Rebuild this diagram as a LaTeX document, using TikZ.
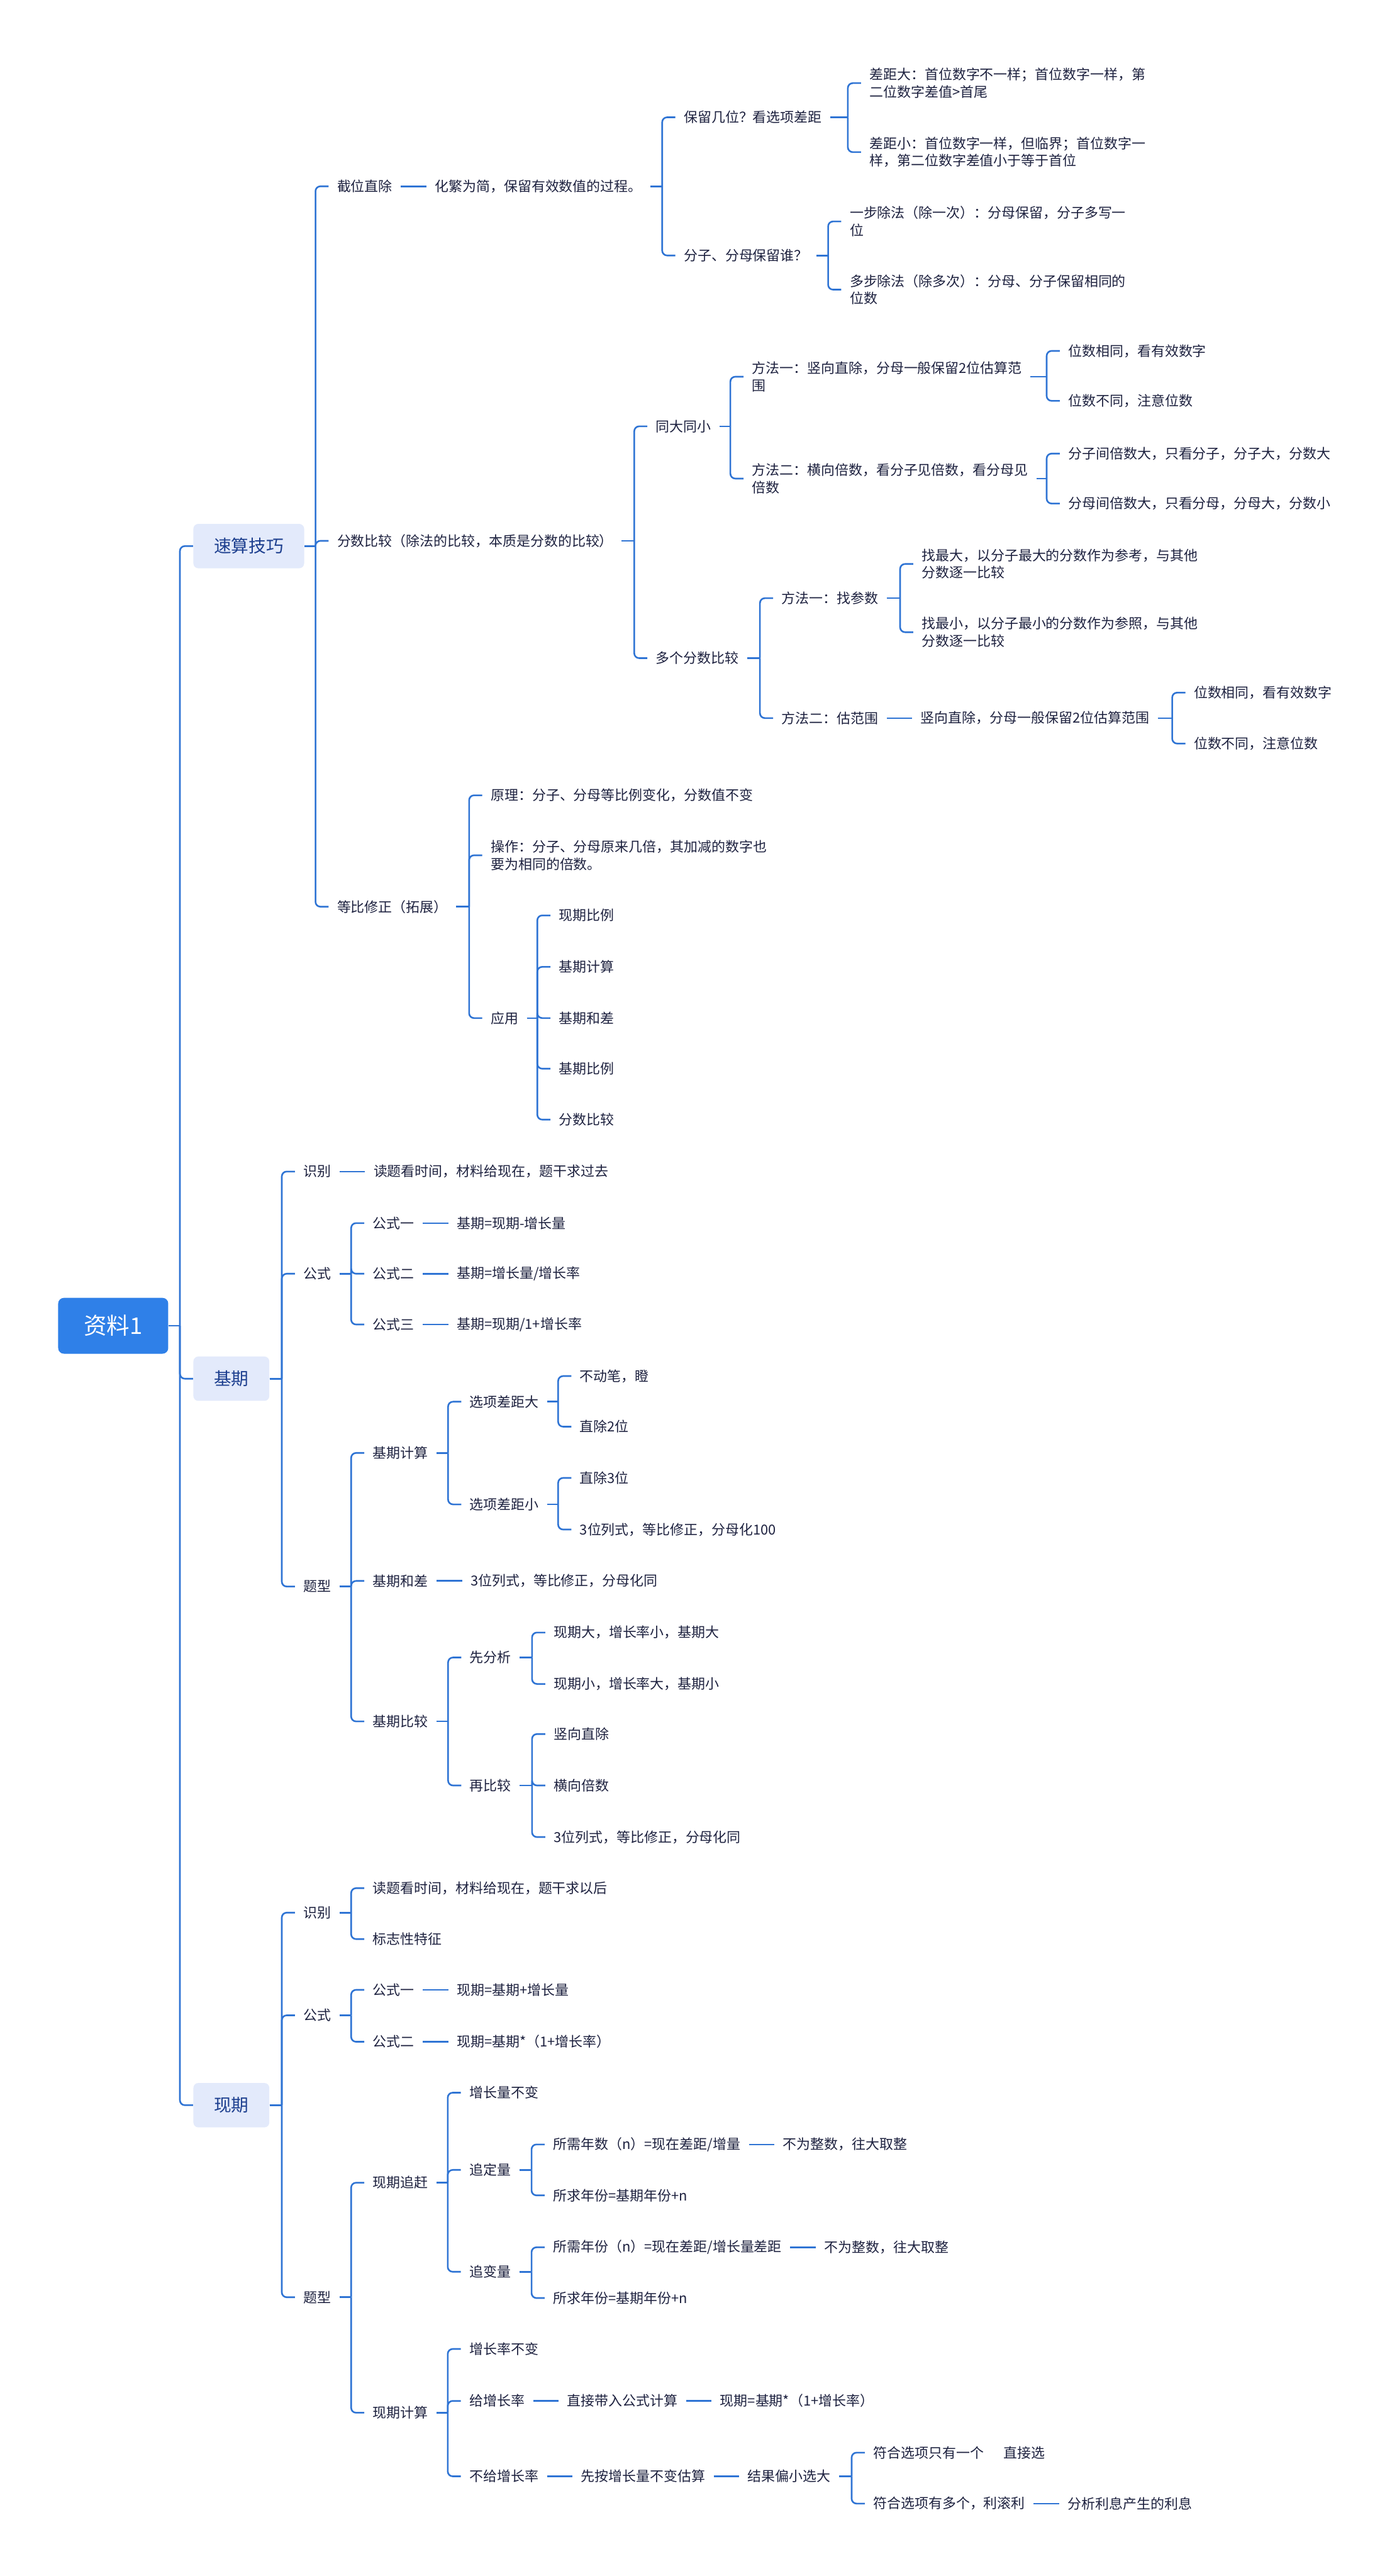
\documentclass[tikz,border=0pt]{standalone}
\usepackage{fontspec}
\setmainfont{Noto Sans CJK SC}
\usetikzlibrary{positioning}
\definecolor{linkblue}{HTML}{2F74D4}
\definecolor{rootblue}{HTML}{2F80E8}
\definecolor{topicfill}{HTML}{E3EAFB}
\definecolor{topictext}{HTML}{1D3F8F}
\definecolor{itemtext}{HTML}{1E2240}
\newcommand{\branch}[2]{\foreach \kid in {#2}{\coordinate (bar) at ([xshift=-8pt]\kid.west);
  \draw[link] (#1.east) -- (bar |- #1.east);
  \draw[link,rounded corners=3pt] (\kid.west) -| (bar |- #1.east);}}

\begin{document}
\begin{tikzpicture}[x=1pt,y=-1pt,node distance=15.5pt,
  item/.style={anchor=west,inner xsep=5pt,inner ysep=2pt,text=itemtext,align=left,font=\fontsize{8.4}{10.5}\selectfont},
  topic/.style={anchor=west,fill=topicfill,text=topictext,rounded corners=3pt,minimum height=27pt,inner xsep=12.5pt,font=\fontsize{10.6}{12}\selectfont},
  rootbox/.style={fill=rootblue,text=white,rounded corners=3.5pt,minimum width=67pt,minimum height=34pt,font=\fontsize{14}{16}\selectfont},
  link/.style={draw=linkblue,line width=1pt}]
\useasboundingbox (0,0) rectangle (850,1568);
\fill[white] (0,0) rectangle (850,1568);

\node[rootbox] (zl) at (68.9,807) {资料1};
\node[topic] (sskq) at (117.5,332.4) {速算技巧};
\node[topic] (jq) at (117.5,839.2) {基期};
\node[topic] (xq) at (117.5,1281.4) {现期};
\branch{zl}{sskq,jq,xq}

\node[item] (jwzc) at (200,113.4) {截位直除};
\node[item] (fsbj) at (200,329.2) {分数比较（除法的比较，本质是分数的比较）};
\node[item] (dbxz) at (200,551.9) {等比修正（拓展）};
\branch{sskq}{jwzc,fsbj,dbxz}

\node[item] (hfwj) [right=of jwzc] {化繁为简，保留有效数值的过程。};
\draw[link] (jwzc) -- (hfwj);
\node[item] (blj) at (411,71.4) {保留几位？看选项差距};
\node[item] (fzfm) at (411,155.5) {分子、分母保留谁？};
\branch{hfwj}{blj,fzfm}
\node[item] (cjd) at (524,50.6) {差距大：首位数字不一样；首位数字一样，第\\二位数字差值>首尾};
\node[item] (cjx) at (524,92.6) {差距小：首位数字一样，但临界；首位数字一\\样，第二位数字差值小于等于首位};
\branch{blj}{cjd,cjx}
\node[item] (ybcf) at (512,134.8) {一步除法（除一次）：分母保留，分子多写一\\位};
\node[item] (dbcf) at (512,176.3) {多步除法（除多次）：分母、分子保留相同的\\位数};
\branch{fzfm}{ybcf,dbcf}

\node[item] (tdtx) at (394,259.5) {同大同小};
\node[item] (dgfs) at (394,400.6) {多个分数比较};
\branch{fsbj}{tdtx,dgfs}
\node[item] (ff1) at (452.5,229.3) {方法一：竖向直除，分母一般保留2位估算范\\围};
\node[item] (ff2) at (452.5,291.3) {方法二：横向倍数，看分子见倍数，看分母见\\倍数};
\branch{tdtx}{ff1,ff2}
\node[item] (ws1) at (645,213.6) {位数相同，看有效数字};
\node[item] (wb1) at (645,244) {位数不同，注意位数};
\branch{ff1}{ws1,wb1}
\node[item] (fzj) at (645,276.1) {分子间倍数大，只看分子，分子大，分数大};
\node[item] (fmj) at (645,306.5) {分母间倍数大，只看分母，分母大，分数小};
\branch{ff2}{fzj,fmj}
\node[item] (zcs) at (470.5,364.1) {方法一：找参数};
\node[item] (gfw) at (470.5,437.1) {方法二：估范围};
\branch{dgfs}{zcs,gfw}
\node[item] (zzd) at (555.8,343.3) {找最大，以分子最大的分数作为参考，与其他\\分数逐一比较};
\node[item] (zzx) at (555.8,384.8) {找最小，以分子最小的分数作为参照，与其他\\分数逐一比较};
\branch{zcs}{zzd,zzx}
\node[item] (sxzc) [right=of gfw] {竖向直除，分母一般保留2位估算范围};
\draw[link] (gfw) -- (sxzc);
\node[item] (ws2) at (721.4,421.6) {位数相同，看有效数字};
\node[item] (wb2) at (721.4,452.6) {位数不同，注意位数};
\branch{sxzc}{ws2,wb2}

\node[item] (yl) at (293.5,484.1) {原理：分子、分母等比例变化，分数值不变};
\node[item] (cz) at (293.5,520.6) {操作：分子、分母原来几倍，其加减的数字也\\要为相同的倍数。};
\node[item] (yy) at (293.5,619.7) {应用};
\branch{dbxz}{yl,cz,yy}
\node[item] (yy1) at (335,557.2) {现期比例};
\node[item] (yy2) at (335,588.5) {基期计算};
\node[item] (yy3) at (335,619.7) {基期和差};
\node[item] (yy4) at (335,650.5) {基期比例};
\node[item] (yy5) at (335,681.5) {分数比较};
\branch{yy}{yy1,yy2,yy3,yy4,yy5}

\node[item] (jsb) at (179.5,713.1) {识别};
\node[item] (jgs) at (179.5,775.3) {公式};
\node[item] (jtx) at (179.5,965.7) {题型};
\branch{jq}{jsb,jgs,jtx}
\node[item] (jsbt) [right=of jsb] {读题看时间，材料给现在，题干求过去};
\draw[link] (jsb) -- (jsbt);
\node[item] (jgs1) at (221.7,744.5) {公式一};
\node[item] (jgs2) at (221.7,775.3) {公式二};
\node[item] (jgs3) at (221.7,806.2) {公式三};
\branch{jgs}{jgs1,jgs2,jgs3}
\node[item] (jgs1t) [right=of jgs1] {基期=现期-增长量};
\node[item] (jgs2t) [right=of jgs2] {基期=增长量/增长率};
\node[item] (jgs3t) [right=of jgs3] {基期=现期/1+增长率};
\draw[link] (jgs1) -- (jgs1t); \draw[link] (jgs2) -- (jgs2t); \draw[link] (jgs3) -- (jgs3t);
\node[item] (jqjs) at (221.7,884.4) {基期计算};
\node[item] (jqhc) at (221.7,962.3) {基期和差};
\node[item] (jqbj) at (221.7,1047.8) {基期比较};
\branch{jtx}{jqjs,jqhc,jqbj}
\node[item] (xcd) at (280.7,853.2) {选项差距大};
\node[item] (xcx) at (280.7,915.7) {选项差距小};
\branch{jqjs}{xcd,xcx}
\node[item] (bdb) at (347.7,837.6) {不动笔，瞪};
\node[item] (zc2) at (347.7,868.4) {直除2位};
\branch{xcd}{bdb,zc2}
\node[item] (zc3) at (347.7,899.6) {直除3位};
\node[item] (lsa) at (347.7,931) {3位列式，等比修正，分母化100};
\branch{xcx}{zc3,lsa}
\node[item] (lsb) [right=of jqhc] {3位列式，等比修正，分母化同};
\draw[link] (jqhc) -- (lsb);
\node[item] (xfx) at (280.7,1008.9) {先分析};
\node[item] (zbj) at (280.7,1086.8) {再比较};
\branch{jqbj}{xfx,zbj}
\node[item] (xqd) at (331.8,993.7) {现期大，增长率小，基期大};
\node[item] (xqx) at (331.8,1025) {现期小，增长率大，基期小};
\branch{xfx}{xqd,xqx}
\node[item] (sxzb) at (331.8,1055.5) {竖向直除};
\node[item] (hxbs) at (331.8,1086.8) {横向倍数};
\node[item] (lsc) at (331.8,1118.2) {3位列式，等比修正，分母化同};
\branch{zbj}{sxzb,hxbs,lsc}

\node[item] (xsb) at (179.5,1164.2) {识别};
\node[item] (xgs) at (179.5,1226.7) {公式};
\node[item] (xtx) at (179.5,1398.3) {题型};
\branch{xq}{xsb,xgs,xtx}
\node[item] (xsbt) at (221.7,1149.3) {读题看时间，材料给现在，题干求以后};
\node[item] (bzx) at (221.7,1180.3) {标志性特征};
\branch{xsb}{xsbt,bzx}
\node[item] (xgs1) at (221.7,1211.2) {公式一};
\node[item] (xgs2) at (221.7,1242.8) {公式二};
\branch{xgs}{xgs1,xgs2}
\node[item] (xgs1t) [right=of xgs1] {现期=基期+增长量};
\node[item] (xgs2t) [right=of xgs2] {现期=基期*（1+增长率）};
\draw[link] (xgs1) -- (xgs1t); \draw[link] (xgs2) -- (xgs2t);
\node[item] (xqzg) at (221.7,1328.6) {现期追赶};
\node[item] (xqjs) at (221.7,1468.6) {现期计算};
\branch{xtx}{xqzg,xqjs}
\node[item] (zlbb) at (280.5,1273.8) {增长量不变};
\node[item] (zdl) at (280.5,1320.8) {追定量};
\node[item] (zbl) at (280.5,1382.8) {追变量};
\branch{xqzg}{zlbb,zdl,zbl}
\node[item] (sxns) at (331.5,1305.3) {所需年数（n）=现在差距/增量};
\node[item] (sqn1) at (331.5,1336.3) {所求年份=基期年份+n};
\branch{zdl}{sxns,sqn1}
\node[item] (bwz1) [right=of sxns] {不为整数，往大取整};
\draw[link] (sxns) -- (bwz1);
\node[item] (sxnf) at (331.5,1367.9) {所需年份（n）=现在差距/增长量差距};
\node[item] (sqn2) at (331.5,1398.8) {所求年份=基期年份+n};
\branch{zbl}{sxnf,sqn2}
\node[item] (bwz2) [right=of sxnf] {不为整数，往大取整};
\draw[link] (sxnf) -- (bwz2);
\node[item] (zlbb2) at (280.5,1429.8) {增长率不变};
\node[item] (gzzl) at (280.5,1461.4) {给增长率};
\node[item] (bgzz) at (280.5,1507.3) {不给增长率};
\branch{xqjs}{zlbb2,gzzl,bgzz}
\node[item] (zjdr) [right=of gzzl] {直接带入公式计算};
\node[item] (xqgs) [right=of zjdr] {现期=基期*（1+增长率）};
\draw[link] (gzzl) -- (zjdr); \draw[link] (zjdr) -- (xqgs);
\node[item] (xabb) [right=of bgzz] {先按增长量不变估算};
\node[item] (jgpx) [right=of xabb] {结果偏小选大};
\draw[link] (bgzz) -- (xabb); \draw[link] (xabb) -- (jgpx);
\node[item] (fhy) at (526.3,1492.9) {符合选项只有一个\hspace{12pt}直接选};
\node[item] (fhd) at (526.3,1523.9) {符合选项有多个，利滚利};
\branch{jgpx}{fhy,fhd}
\node[item] (fxlx) [right=of fhd] {分析利息产生的利息};
\draw[link] (fhd) -- (fxlx);
\end{tikzpicture}
\end{document}
